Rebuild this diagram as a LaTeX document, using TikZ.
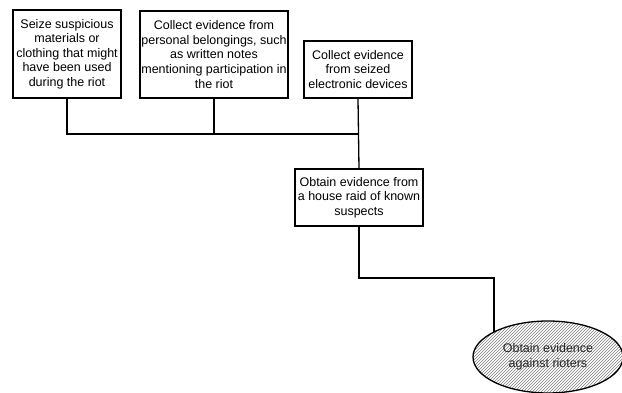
\documentclass[tikz,border=0pt]{standalone}
\usepackage{fontspec}
\setmainfont{Liberation Sans}
\usetikzlibrary{shapes.geometric,patterns}
\begin{document}
\begin{tikzpicture}[x=1pt,y=-1pt,
  box/.style={draw=black,line width=1.3pt,fill=white,align=center,inner sep=0pt,font=\fontsize{12.5}{14.6}\selectfont},
  conn/.style={draw=black,line width=1.3pt}]
\useasboundingbox (0,0) rectangle (622,393);
\node[box,minimum width=108pt,minimum height=88pt] (b1) at (67,54) {Seize suspicious\\materials or\\clothing that might\\have been used\\during the riot};
\node[box,minimum width=148pt,minimum height=87pt] (b2) at (214,54.5) {Collect evidence from\\personal belongings, such\\as written notes\\mentioning participation in\\the riot};
\node[box,minimum width=108pt,minimum height=57pt] (b3) at (358,69.5) {Collect evidence\\from seized\\electronic devices};
\node[box,minimum width=128pt,minimum height=57pt] (b4) at (359,197.5) {Obtain evidence from\\a house raid of known\\suspects};
\coordinate (j) at (359,134);
\coordinate (k) at (494,278);
\draw[conn] (b1.south) |- (j);
\draw[conn] (b2.south) -- (b2.south |- j);
\draw[conn] (b3.south) -- (b4.north);
\draw[conn] (b4.south) |- (k) -- ++(0,70);
\node[ellipse,draw=black,line width=1.3pt,preaction={fill=white},pattern=north east lines,pattern color=black!50,
  minimum width=150pt,minimum height=72pt,inner sep=0pt,align=center,font=\fontsize{12.5}{14.6}\selectfont,text=black!85] (e) at (548,357) {Obtain evidence\\against rioters};
\end{tikzpicture}
\end{document}
